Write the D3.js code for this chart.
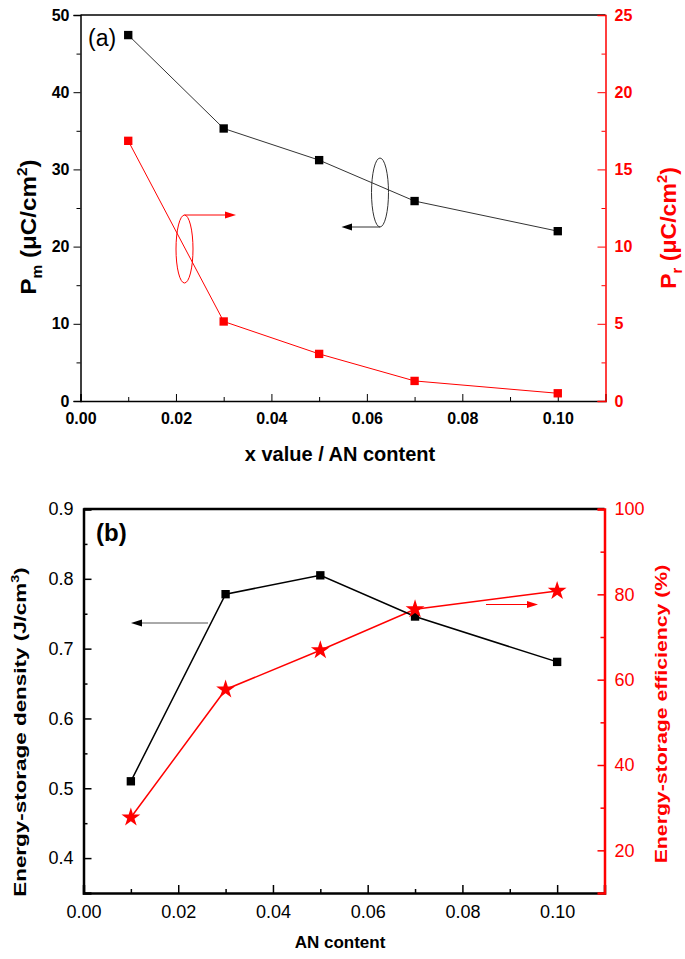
<!DOCTYPE html>
<html><head><meta charset="utf-8">
<script src="https://cdn.jsdelivr.net/npm/d3@7"></script>
<style>body{margin:0;background:#fff}svg{display:block;font-family:"Liberation Sans",Arial,sans-serif}</style>
</head><body>
<script>
// ---- data ----
const xA = [0.01, 0.03, 0.05, 0.07, 0.10];
const pm = [47.4, 35.3, 31.2, 25.9, 22.0];
const pr = [16.85, 5.15, 3.05, 1.3, 0.5];
const xB = [0.01, 0.03, 0.05, 0.07, 0.10];
const density = [0.510, 0.778, 0.805, 0.746, 0.681];
const efficiency = [27.7, 57.7, 66.9, 76.5, 80.8];
const xTicks = [0, 0.02, 0.04, 0.06, 0.08, 0.10];
const pmTicks = [0, 10, 20, 30, 40, 50];
const prTicks = [0, 5, 10, 15, 20, 25];
const denTicks = [0.4, 0.5, 0.6, 0.7, 0.8, 0.9];
const effTicks = [20, 40, 60, 80, 100];

const W = 685, H = 959;
const svg = d3.select("body").append("svg").attr("width", W).attr("height", H);
const RED = "#ff0000";

function minorTicks(scale, step) {
  const [a, b] = scale.domain();
  const out = [];
  for (let v = Math.ceil(a / step - 1e-9) * step; v <= b + 1e-9; v += step) out.push(+v.toFixed(6));
  return out;
}

// ================= Panel (a) =================
{
  const L = 80.5, R = 605.5, T = 15, B = 401;
  const x = d3.scaleLinear().domain([0, 0.11]).range([L, R]);
  const yL = d3.scaleLinear().domain([0, 50]).range([B, T]);
  const yR = d3.scaleLinear().domain([0, 25]).range([B, T]);
  const g = svg.append("g");

  g.append("line").attr("x1", L).attr("x2", R).attr("y1", T).attr("y2", T).attr("stroke", "#000").attr("stroke-width", 1.5);
  const la = g.append("g").attr("transform", `translate(${L},0)`)
    .call(d3.axisLeft(yL).tickValues(pmTicks).tickSize(7).tickFormat(d3.format("d")));
  la.select(".domain").attr("stroke-width", 1.5);
  la.selectAll("text").attr("font-size", 16).attr("font-weight", "bold").attr("fill", "#000").attr("x", -11);
  g.append("g").attr("transform", `translate(${L},0)`)
    .call(d3.axisLeft(yL).tickValues(minorTicks(yL, 5).filter(v => v % 10)).tickSize(4).tickFormat(""))
    .select(".domain").remove();
  const ba = g.append("g").attr("transform", `translate(0,${B})`)
    .call(d3.axisBottom(x).tickValues(xTicks).tickSize(-7).tickPadding(12).tickFormat(d3.format(".2f")));
  ba.select(".domain").attr("stroke-width", 1.5);
  ba.selectAll("text").attr("font-size", 16).attr("font-weight", "bold").attr("fill", "#000");
  g.append("g").attr("transform", `translate(0,${B})`)
    .call(d3.axisBottom(x).tickValues([0.01, 0.03, 0.05, 0.07, 0.09]).tickSize(-4).tickFormat(""))
    .select(".domain").remove();
  const ra = g.append("g").attr("transform", `translate(${R},0)`)
    .call(d3.axisRight(yR).tickValues(prTicks).tickSize(-8).tickPadding(11).tickFormat(d3.format("d")));
  ra.select(".domain").attr("stroke", RED).attr("stroke-width", 1.5);
  ra.selectAll("line").attr("stroke", RED);
  ra.selectAll("text").attr("font-size", 16).attr("font-weight", "bold").attr("fill", RED).attr("x", 9);
  const rm = g.append("g").attr("transform", `translate(${R},0)`)
    .call(d3.axisRight(yR).tickValues([2.5, 7.5, 12.5, 17.5, 22.5]).tickSize(-4).tickFormat(""));
  rm.select(".domain").remove();
  rm.selectAll("line").attr("stroke", RED);

  const lineL = d3.line().x((d, i) => x(xA[i])).y(d => yL(d));
  const lineR = d3.line().x((d, i) => x(xA[i])).y(d => yR(d));
  g.append("path").attr("d", lineL(pm)).attr("fill", "none").attr("stroke", "#333").attr("stroke-width", 1);
  g.append("path").attr("d", lineR(pr)).attr("fill", "none").attr("stroke", RED).attr("stroke-width", 1);
  const sq = d3.symbol().type(d3.symbolSquare).size(70);
  g.selectAll(".pm").data(pm).join("path").attr("d", sq)
    .attr("transform", (d, i) => `translate(${x(xA[i])},${yL(d)})`).attr("fill", "#000");
  g.selectAll(".pr").data(pr).join("path").attr("d", sq)
    .attr("transform", (d, i) => `translate(${x(xA[i])},${yR(d)})`).attr("fill", RED);

  g.append("ellipse").attr("cx", 184.5).attr("cy", 249).attr("rx", 8.5).attr("ry", 34)
    .attr("fill", "none").attr("stroke", RED).attr("stroke-width", 1);
  g.append("line").attr("x1", 184.5).attr("y1", 215).attr("x2", 226).attr("y2", 215).attr("stroke", RED).attr("stroke-width", 1);
  g.append("path").attr("d", "M236,215 L225,211.5 L225,218.5 Z").attr("fill", RED);
  g.append("ellipse").attr("cx", 380).attr("cy", 192.5).attr("rx", 8.5).attr("ry", 34.5)
    .attr("fill", "none").attr("stroke", "#333").attr("stroke-width", 1);
  g.append("line").attr("x1", 380).attr("y1", 227).attr("x2", 351).attr("y2", 227).attr("stroke", "#333").attr("stroke-width", 1);
  g.append("path").attr("d", "M341.5,227 L352,223.5 L352,230.5 Z").attr("fill", "#000");

  g.append("text").attr("x", 88).attr("y", 46).attr("font-size", 23).text("(a)");

  g.append("text").attr("x", 340).attr("y", 461).attr("text-anchor", "middle")
    .attr("font-size", 20).attr("font-weight", "bold").text("x value / AN content");
  const lt = g.append("text").attr("transform", "translate(36,227) rotate(-90) scale(1.1,1)").attr("text-anchor", "middle")
    .attr("font-size", 22).attr("font-weight", "bold");
  lt.append("tspan").text("P");
  lt.append("tspan").attr("font-size", 14).attr("dy", 6).text("m");
  lt.append("tspan").attr("dy", -6).text(" (\u03bcC/cm");
  lt.append("tspan").attr("font-size", 14).attr("dy", -9).text("2");
  lt.append("tspan").attr("dy", 9).text(")");
  const rt = g.append("text").attr("transform", "translate(676,228) rotate(-90) scale(1.05,1)").attr("text-anchor", "middle")
    .attr("font-size", 22).attr("font-weight", "bold").attr("fill", RED);
  rt.append("tspan").text("P");
  rt.append("tspan").attr("font-size", 14).attr("dy", 6).text("r");
  rt.append("tspan").attr("dy", -6).text(" (\u03bcC/cm");
  rt.append("tspan").attr("font-size", 14).attr("dy", -9).text("2");
  rt.append("tspan").attr("dy", 9).text(")");
}

// ================= Panel (b) =================
{
  const L = 83.5, R = 604.5, T = 509, B = 893;
  const x = d3.scaleLinear().domain([0, 0.11]).range([L, R]);
  const yL = d3.scaleLinear().domain([0.35, 0.9]).range([B, T]);
  const yR = d3.scaleLinear().domain([10, 100]).range([B, T]);
  const g = svg.append("g");

  g.append("line").attr("x1", L).attr("x2", R).attr("y1", T).attr("y2", T).attr("stroke", "#000").attr("stroke-width", 2.5);
  const la = g.append("g").attr("transform", `translate(${L},0)`)
    .call(d3.axisLeft(yL).tickValues(denTicks).tickSize(-8).tickPadding(10).tickFormat(d3.format(".1f")));
  la.select(".domain").attr("stroke-width", 2.5);
  la.selectAll("line").attr("stroke-width", 1.5);
  la.selectAll("text").attr("font-size", 18).attr("fill", "#000");
  const lm = g.append("g").attr("transform", `translate(${L},0)`)
    .call(d3.axisLeft(yL).tickValues([0.45, 0.55, 0.65, 0.75, 0.85]).tickSize(-4).tickFormat(""));
  lm.select(".domain").remove(); lm.selectAll("line").attr("stroke-width", 1.5);

  const ba = g.append("g").attr("transform", `translate(0,${B})`)
    .call(d3.axisBottom(x).tickValues(xTicks).tickSize(-8).tickPadding(12).tickFormat(d3.format(".2f")));
  ba.select(".domain").attr("stroke-width", 2.5);
  ba.selectAll("line").attr("stroke-width", 1.5);
  ba.selectAll("text").attr("font-size", 18).attr("fill", "#000");
  const bm = g.append("g").attr("transform", `translate(0,${B})`)
    .call(d3.axisBottom(x).tickValues([0.01, 0.03, 0.05, 0.07, 0.09]).tickSize(-4).tickFormat(""));
  bm.select(".domain").remove(); bm.selectAll("line").attr("stroke-width", 1.5);

  const ra = g.append("g").attr("transform", `translate(${R},0)`)
    .call(d3.axisRight(yR).tickValues(effTicks).tickSize(-7).tickPadding(11).tickFormat(d3.format("d")));
  ra.select(".domain").attr("stroke", RED).attr("stroke-width", 2.5);
  ra.selectAll("line").attr("stroke", RED).attr("stroke-width", 1.5);
  ra.selectAll("text").attr("font-size", 18).attr("fill", RED).attr("x", 10);
  const rm = g.append("g").attr("transform", `translate(${R},0)`)
    .call(d3.axisRight(yR).tickValues([30, 50, 70, 90]).tickSize(-4).tickFormat(""));
  rm.select(".domain").remove();
  rm.selectAll("line").attr("stroke", RED).attr("stroke-width", 1.5);

  const lineL = d3.line().x((d, i) => x(xB[i])).y(d => yL(d));
  const lineR = d3.line().x((d, i) => x(xB[i])).y(d => yR(d));
  g.append("path").attr("d", lineR(efficiency)).attr("fill", "none").attr("stroke", RED).attr("stroke-width", 1.5);
  g.append("path").attr("d", lineL(density)).attr("fill", "none").attr("stroke", "#000").attr("stroke-width", 1.5);
  const sq = d3.symbol().type(d3.symbolSquare).size(70);
  g.selectAll(".den").data(density).join("path").attr("d", sq)
    .attr("transform", (d, i) => `translate(${x(xB[i])},${yL(d)})`).attr("fill", "#000");
  const st = d3.symbol().type(d3.symbolStar).size(110);
  g.selectAll(".eff").data(efficiency).join("path").attr("d", st)
    .attr("transform", (d, i) => `translate(${x(xB[i])},${yR(d)})`).attr("fill", RED);

  g.append("line").attr("x1", 208).attr("y1", 623).attr("x2", 141).attr("y2", 623).attr("stroke", "#555").attr("stroke-width", 1);
  g.append("path").attr("d", "M131,623 L142,619.5 L142,626.5 Z").attr("fill", "#000");
  g.append("line").attr("x1", 486).attr("y1", 604.5).attr("x2", 528).attr("y2", 604.5).attr("stroke", RED).attr("stroke-width", 1);
  g.append("path").attr("d", "M538,604.5 L527,601 L527,608 Z").attr("fill", RED);

  g.append("text").attr("x", 96).attr("y", 541).attr("transform", "").attr("font-size", 24).attr("font-weight", "bold").text("(b)");

  g.append("text").attr("x", 340).attr("y", 948).attr("text-anchor", "middle")
    .attr("font-size", 17).attr("font-weight", "bold").text("AN content");
  const lt = g.append("text").attr("transform", "translate(26,732) rotate(-90) scale(1.32,1)").attr("text-anchor", "middle")
    .attr("font-size", 17).attr("font-weight", "bold");
  lt.append("tspan").text("Energy-storage density (J/cm");
  lt.append("tspan").attr("font-size", 11).attr("dy", -7).text("3");
  lt.append("tspan").attr("dy", 7).text(")");
  g.append("text").attr("transform", "translate(667,714) rotate(-90) scale(1.25,1)").attr("text-anchor", "middle")
    .attr("font-size", 17).attr("font-weight", "bold").attr("fill", RED).text("Energy-storage efficiency (%)");
}
</script>
</body></html>
